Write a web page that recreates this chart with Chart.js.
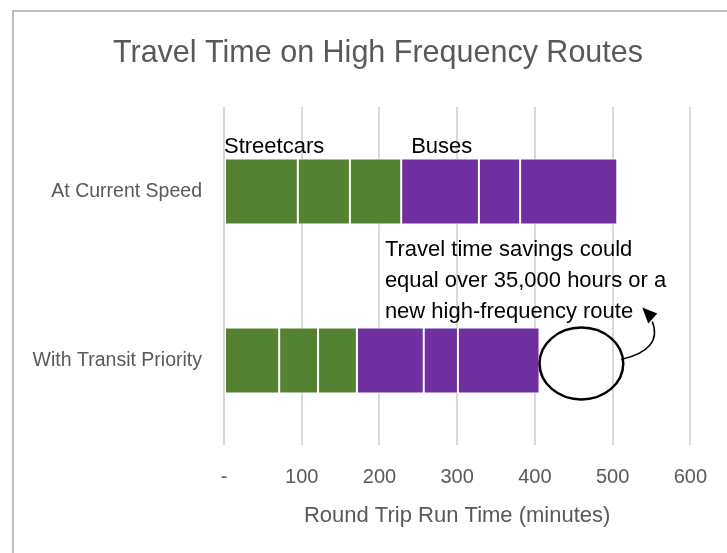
<!DOCTYPE html>
<html>
<head>
<meta charset="utf-8">
<script src="https://cdn.jsdelivr.net/npm/chart.js@4"></script>
<style>
  html, body { margin: 0; padding: 0; background: #fff; }
  #wrap { position: relative; width: 727px; height: 553px; }
</style>
</head>
<body>
<div id="wrap"><canvas id="travelChart"></canvas></div>
<script>
// ===== DATA =====
const categories = ['At Current Speed', 'With Transit Priority'];
// streetcar route segments (minutes)
const streetcarA = [95, 71];
const streetcarB = [67, 50];
const streetcarC = [66, 50];
// bus route segments (minutes)
const busA = [100, 86];
const busB = [53, 44];
const busC = [125, 105];
const xTicks = [0, 100, 200, 300, 400, 500, 600];

const chartTitle = 'Travel Time on High Frequency Routes';
const axisTitle = 'Round Trip Run Time (minutes)';
const noteLines = ['Travel time savings could', 'equal over 35,000 hours or a', 'new high-frequency route'];

const GREEN = '#548235';
const PURPLE = '#7030a0';
const GREY_TEXT = '#595959';
const FONT = "'Liberation Sans', Arial, sans-serif";

function segment(data, color) {
    return {
        data: data,
        backgroundColor: color,
        borderColor: '#ffffff',
        borderWidth: 1,
        borderSkipped: false,
        barPercentage: 0.39,
        categoryPercentage: 1
    };
}

// ===== ANNOTATIONS (title, labels, ellipse, arrow) =====
const annotations = {
    id: 'annotations',
    beforeDraw(chart) {
        const ctx = chart.ctx;
        ctx.save();
        // outer frame
        ctx.fillStyle = '#bfbfbf';
        ctx.fillRect(12, 10, chart.width, 2);
        ctx.fillRect(12, 10, 2, chart.height);
        // title
        ctx.fillStyle = GREY_TEXT;
        ctx.font = '30.5px ' + FONT;
        ctx.textAlign = 'center';
        ctx.textBaseline = 'alphabetic';
        ctx.fillText(chartTitle, 378, 62);
        ctx.restore();
    },
    afterDraw(chart) {
        const ctx = chart.ctx;
        const x = chart.scales.x;
        const bar1 = chart.getDatasetMeta(0).data[0];
        const bar2 = chart.getDatasetMeta(0).data[1];
        const top1 = bar1.y - bar1.height / 2;
        const top2 = bar2.y - bar2.height / 2;

        const streetTotal1 = streetcarA[0] + streetcarB[0] + streetcarC[0];
        const total1 = streetTotal1 + busA[0] + busB[0] + busC[0];
        const total2 = streetcarA[1] + streetcarB[1] + streetcarC[1] + busA[1] + busB[1] + busC[1];

        ctx.save();
        ctx.fillStyle = '#000';
        ctx.font = '22px ' + FONT;
        ctx.textAlign = 'left';
        ctx.textBaseline = 'alphabetic';
        ctx.fillText('Streetcars', x.getPixelForValue(0), top1 - 6);
        ctx.fillText('Buses', x.getPixelForValue(streetTotal1) + 10, top1 - 6);

        // savings note
        const noteX = x.getPixelForValue(207);
        noteLines.forEach((line, i) => {
            ctx.fillText(line, noteX, top2 - 72 + i * 31);
        });

        // ellipse marking the time saved
        const left = x.getPixelForValue(total2);
        const right = x.getPixelForValue(total1) + 6;
        const cx = (left + right) / 2;
        const cy = bar2.y + 3;
        const rx = (right - left) / 2;
        const ry = bar2.height / 2 + 3;
        ctx.strokeStyle = '#000';
        ctx.lineWidth = 2.5;
        ctx.beginPath();
        ctx.ellipse(cx, cy, rx, ry, 0, 0, Math.PI * 2);
        ctx.stroke();

        // curved arrow up to the note
        ctx.lineWidth = 1.5;
        ctx.beginPath();
        ctx.moveTo(right - 2, cy - 4);
        ctx.quadraticCurveTo(right + 40, cy - 14, right + 29, cy - 42);
        ctx.stroke();
        ctx.beginPath();
        ctx.moveTo(right + 19, cy - 56);
        ctx.lineTo(right + 34, cy - 50);
        ctx.lineTo(right + 25, cy - 40);
        ctx.closePath();
        ctx.fill();
        ctx.restore();
    }
};

// ===== CHART =====
const travelChart = new Chart(document.getElementById('travelChart'), {
    type: 'bar',
    data: {
        labels: categories,
        datasets: [
            segment(streetcarA, GREEN),
            segment(streetcarB, GREEN),
            segment(streetcarC, GREEN),
            segment(busA, PURPLE),
            segment(busB, PURPLE),
            segment(busC, PURPLE)
        ]
    },
    options: {
        indexAxis: 'y',
        responsive: true,
        maintainAspectRatio: false,
        animation: false,
        layout: { padding: { top: 107, right: 35, bottom: 0, left: 0 } },
        plugins: {
            legend: { display: false },
            tooltip: { enabled: false }
        },
        scales: {
            x: {
                stacked: true,
                min: 0,
                max: 600,
                afterBuildTicks: (scale) => { scale.ticks = xTicks.map(v => ({ value: v })); },
                afterFit: (scale) => { scale.height = 108; },
                grid: { color: '#d9d9d9', lineWidth: 2, drawTicks: false },
                border: { display: false },
                ticks: {
                    color: GREY_TEXT,
                    font: { family: FONT, size: 20 },
                    padding: 20,
                    callback: (v) => v === 0 ? '-' : v
                },
                title: {
                    display: true,
                    text: axisTitle,
                    color: GREY_TEXT,
                    font: { family: FONT, size: 22 },
                    padding: { top: 0, bottom: 24 }
                }
            },
            y: {
                stacked: true,
                afterFit: (scale) => { scale.width = 224; },
                grid: { display: false, drawTicks: false },
                border: { display: false },
                ticks: {
                    color: GREY_TEXT,
                    font: { family: FONT, size: 19.5 },
                    padding: 22
                }
            }
        }
    },
    plugins: [annotations]
});
</script>
</body>
</html>
